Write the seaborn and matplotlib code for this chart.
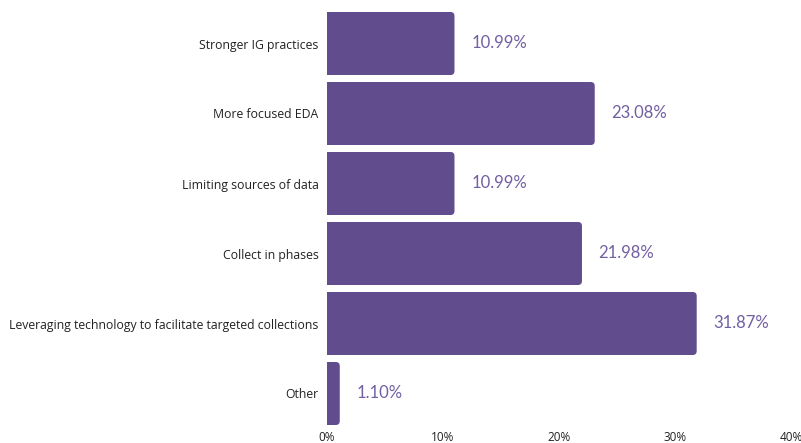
import matplotlib
matplotlib.use("Agg")
import matplotlib.pyplot as plt
from matplotlib.patches import FancyBboxPatch
import seaborn as sns
import pandas as pd

categories = [
    "Stronger IG practices",
    "More focused EDA",
    "Limiting sources of data",
    "Collect in phases",
    "Leveraging technology to facilitate targeted collections",
    "Other",
]
percentages = [10.99, 23.08, 10.99, 21.98, 31.87, 1.10]
tick_values = [0, 10, 20, 30, 40]
tick_labels = ["0%", "10%", "20%", "30%", "40%"]

bar_color = "#614C8E"
value_color = "#725FA2"

sns.set_theme(style="white")
plt.rcParams["font.family"] = ["Open Sans", "DejaVu Sans"]

df = pd.DataFrame({"category": categories, "pct": percentages})

W, H = 801, 443
fig = plt.figure(figsize=(W / 100, H / 100), dpi=100)
x0, x1 = 327, 791
y_top, y_bot = 8.5, 428.5
ax = fig.add_axes([x0 / W, (H - y_bot) / H, (x1 - x0) / W, (y_bot - y_top) / H])

sns.barplot(data=df, x="pct", y="category", color=bar_color, saturation=1,
            width=0.9, ax=ax, orient="h")

ax.set_xlim(0, 40)
ax.set_ylim(len(categories) - 0.5, -0.5)

# swap plain rectangles for bars with rounded right ends
px_x = 40 / (x1 - x0)
px_y = len(categories) / (y_bot - y_top)
radius_px = 4
for p in list(ax.patches):
    x, y = p.get_x(), p.get_y()
    w, h = p.get_width(), p.get_height()
    p.remove()
    extra = radius_px * 2 * px_x
    box = FancyBboxPatch((x - extra, y), w + extra, h,
                         boxstyle=f"round,pad=0,rounding_size={radius_px * px_x}",
                         mutation_aspect=px_y / px_x,
                         facecolor=bar_color, edgecolor="none", clip_on=True)
    ax.add_patch(box)

for i, v in enumerate(percentages):
    ax.annotate(f"{v:.2f}%", xy=(v, i), xytext=(12, 0), textcoords="offset points",
                ha="left", va="center", fontsize=12, color=value_color,
                family=["Lato", "DejaVu Sans"])

ax.set_xticks(tick_values)
ax.set_xticklabels(tick_labels, fontsize=8.5, color="#222222")
ax.tick_params(axis="y", labelsize=8.8, colors="#222222", length=0, pad=6)
ax.tick_params(axis="x", length=0, pad=1.5)
for lbl in ax.get_yticklabels():
    lbl.set_color("#222222")
ax.set_xlabel("")
ax.set_ylabel("")
for s in ax.spines.values():
    s.set_visible(False)

fig.savefig("out.png", dpi=100)
